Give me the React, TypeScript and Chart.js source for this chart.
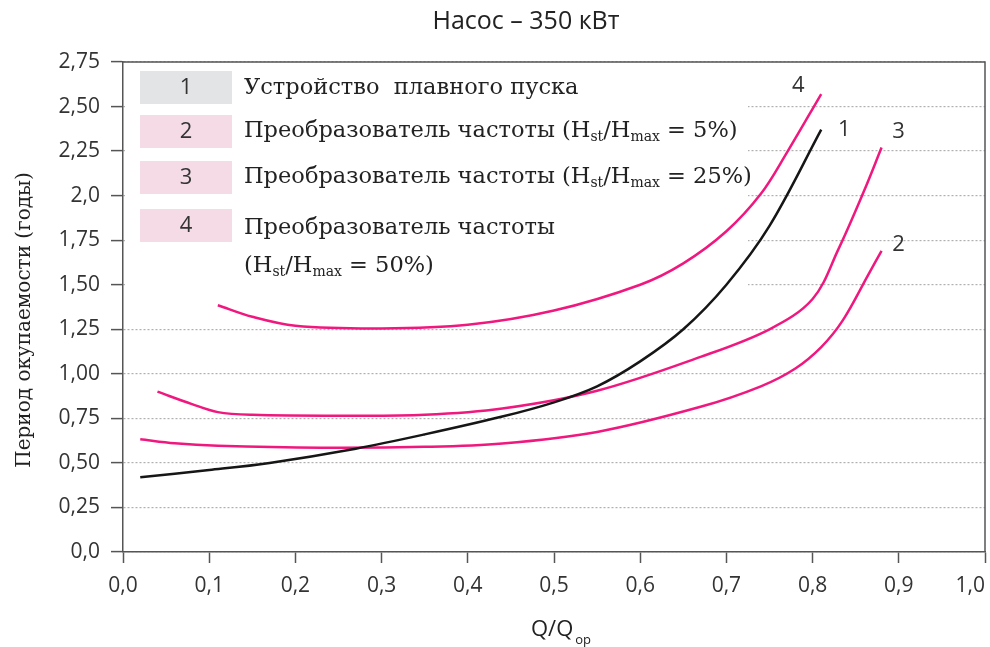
import React, { useEffect, useRef } from 'react';
import { Chart, registerables } from 'chart.js';

Chart.register(...registerables);

const titleText = 'Насос – 350 кВт';
const yAxisTitle = 'Период окупаемости (годы)';
const xAxisTitleMain = 'Q/Q';
const xAxisTitleSub = 'ор';

const xTickLabels = ['0,0', '0,1', '0,2', '0,3', '0,4', '0,5', '0,6', '0,7', '0,8', '0,9', '1,0'];
const yTickLabels = ['0,0', '0,25', '0,50', '0,75', '1,00', '1,25', '1,50', '1,75', '2,0', '2,25', '2,50', '2,75'];

// Curve 1: soft starter (black)
const curve1X = [0.02, 0.1, 0.17, 0.27, 0.35, 0.44, 0.5, 0.55, 0.6, 0.65, 0.7, 0.75, 0.81];
const curve1Y = [0.42, 0.46, 0.5, 0.58, 0.66, 0.76, 0.84, 0.93, 1.07, 1.25, 1.5, 1.83, 2.37];
// Curve 2: frequency converter Hst/Hmax = 5%
const curve2X = [0.02, 0.06, 0.11, 0.23, 0.35, 0.44, 0.55, 0.67, 0.74, 0.78, 0.81, 0.835, 0.865, 0.88];
const curve2Y = [0.633, 0.61, 0.596, 0.585, 0.59, 0.609, 0.674, 0.815, 0.93, 1.03, 1.15, 1.3, 1.56, 1.69];
// Curve 3: frequency converter Hst/Hmax = 25%
const curve3X = [0.04, 0.08, 0.11, 0.15, 0.25, 0.35, 0.44, 0.55, 0.67, 0.75, 0.8, 0.83, 0.86, 0.88];
const curve3Y = [0.9, 0.83, 0.785, 0.77, 0.765, 0.77, 0.805, 0.905, 1.095, 1.25, 1.42, 1.7, 2.03, 2.27];
// Curve 4: frequency converter Hst/Hmax = 50%
const curve4X = [0.11, 0.15, 0.2, 0.3, 0.4, 0.5, 0.6, 0.65, 0.7, 0.74, 0.77, 0.81];
const curve4Y = [1.385, 1.32, 1.27, 1.255, 1.275, 1.355, 1.5, 1.62, 1.8, 2.01, 2.24, 2.57];

const seriesNumbers = ['1', '2', '3', '4'];
const seriesColors = ['#161616', '#f0187f', '#f0187f', '#f0187f'];
const legendBoxColors = ['#e3e4e6', '#f4dbe6', '#f4dbe6', '#f4dbe6'];
// runs: [text, isSubscript]
const legendLines: [string, boolean][][][] = [
  [[['Устройство  плавного пуска', false]]],
  [[['Преобразователь частоты (H', false], ['st', true], ['/H', false], ['max', true], [' = 5%)', false]]],
  [[['Преобразователь частоты (H', false], ['st', true], ['/H', false], ['max', true], [' = 25%)', false]]],
  [
    [['Преобразователь частоты', false]],
    [['(H', false], ['st', true], ['/H', false], ['max', true], [' = 50%)', false]],
  ],
];

const toPoints = (xs: number[], ys: number[]) => xs.map((x, i) => ({ x, y: ys[i] }));

const SERIF = '"DejaVu Serif", serif';
const SANS = '"Open Sans", sans-serif';

function drawRuns(ctx: CanvasRenderingContext2D, runs: [string, boolean][], x: number, y: number, size: number) {
  let cx = x;
  for (const [txt, sub] of runs) {
    ctx.font = sub ? `${Math.round(size * 0.6)}px ${SERIF}` : `${size}px ${SERIF}`;
    ctx.fillText(txt, cx, sub ? y + size * 0.28 : y);
    cx += ctx.measureText(txt).width;
  }
}

const customPlugin = {
  id: 'customDecor',
  beforeDatasetsDraw(chart: any) {
    const ctx: CanvasRenderingContext2D = chart.ctx;
    const area = chart.chartArea;
    ctx.save();
    // legend background hides gridlines
    ctx.fillStyle = '#ffffff';
    ctx.fillRect(area.left + 2, area.top + 2, 748 - area.left - 2, 300 - area.top - 2);
    const boxTops = [71, 115, 161, 209];
    const rowCenters = [[88], [131], [177], [228, 266]];
    for (let i = 0; i < 4; i++) {
      ctx.fillStyle = legendBoxColors[i];
      ctx.fillRect(140, boxTops[i], 92, 33);
      ctx.fillStyle = '#333';
      ctx.font = `22px ${SANS}`;
      ctx.textAlign = 'center';
      ctx.textBaseline = 'middle';
      ctx.fillText(seriesNumbers[i], 186, boxTops[i] + 17);
      ctx.textAlign = 'left';
      ctx.textBaseline = 'middle';
      ctx.fillStyle = '#222';
      legendLines[i].forEach((runs, j) => drawRuns(ctx, runs, 244, rowCenters[i][j], 22.5));
    }
    ctx.restore();
  },
  afterDraw(chart: any) {
    const ctx: CanvasRenderingContext2D = chart.ctx;
    const area = chart.chartArea;
    ctx.save();
    // frame top/right
    ctx.strokeStyle = '#555';
    ctx.lineWidth = 1.5;
    ctx.beginPath();
    ctx.moveTo(area.left, area.top);
    ctx.lineTo(area.right, area.top);
    ctx.lineTo(area.right, area.bottom);
    ctx.stroke();

    // title
    ctx.fillStyle = '#222';
    ctx.textAlign = 'center';
    ctx.textBaseline = 'middle';
    ctx.font = `25px ${SANS}`;
    ctx.fillText(titleText, 526, 22);

    // x tick labels
    const xs = chart.scales.x;
    ctx.font = `21px ${SANS}`;
    ctx.fillStyle = '#333';
    xs.ticks.forEach((t: any, i: number) => {
      const label = xTickLabels[i] ?? '';
      const w = ctx.measureText(label).width;
      const px = Math.min(xs.getPixelForTick(i), area.right - w / 2);
      ctx.fillText(label, px, 586);
    });

    // x axis title
    ctx.textAlign = 'left';
    ctx.font = `22px ${SANS}`;
    ctx.fillStyle = '#222';
    ctx.fillText(xAxisTitleMain, 531, 630);
    const wMain = ctx.measureText(xAxisTitleMain).width;
    ctx.font = `13px ${SANS}`;
    ctx.fillText(xAxisTitleSub, 531 + wMain + 2, 640);

    // y axis title
    ctx.save();
    ctx.translate(25, 320);
    ctx.rotate(-Math.PI / 2);
    ctx.textAlign = 'center';
    ctx.font = `20px ${SERIF}`;
    ctx.fillText(yAxisTitle, 0, 0);
    ctx.restore();

    // curve end labels
    const offsets = [[23, 0], [17, -6], [17, -16], [-23, -8]];
    ctx.textAlign = 'center';
    ctx.font = `22px ${SANS}`;
    ctx.fillStyle = '#333';
    chart.data.datasets.forEach((ds: any, di: number) => {
      const meta = chart.getDatasetMeta(di);
      const last = meta.data[meta.data.length - 1];
      const idx = seriesNumbers.indexOf(ds.label);
      const off = offsets[idx];
      ctx.fillText(ds.label, last.x + off[0], last.y + off[1]);
    });
    ctx.restore();
  },
};

export default function App() {
  const canvasRef = useRef<HTMLCanvasElement | null>(null);

  useEffect(() => {
    if (!canvasRef.current) return;
    const chart = new Chart(canvasRef.current, {
      type: 'scatter',
      data: {
        datasets: [
          { label: seriesNumbers[0], data: toPoints(curve1X, curve1Y), borderColor: seriesColors[0] },
          { label: seriesNumbers[1], data: toPoints(curve2X, curve2Y), borderColor: seriesColors[1] },
          { label: seriesNumbers[2], data: toPoints(curve3X, curve3Y), borderColor: seriesColors[2] },
          { label: seriesNumbers[3], data: toPoints(curve4X, curve4Y), borderColor: seriesColors[3] },
        ].map((d) => ({
          ...d,
          showLine: true,
          borderWidth: 2.5,
          pointRadius: 0,
          pointHoverRadius: 0,
          tension: 0.35,
          fill: false,
        })),
      },
      options: {
        responsive: false,
        animation: false,
        layout: { padding: { top: 62, right: 5, left: 0, bottom: 0 }, autoPadding: false },
        plugins: { legend: { display: false }, tooltip: { enabled: false }, title: { display: false } },
        scales: {
          x: {
            type: 'linear',
            min: 0,
            max: 1,
            ticks: { stepSize: 0.1, display: false },
            grid: { drawOnChartArea: false, tickColor: '#555', tickLength: 11, tickWidth: 1.5 },
            border: { color: '#555', width: 1.5 },
            afterFit: (s: any) => { s.height = 95; },
          },
          y: {
            type: 'linear',
            min: 0,
            max: 2.75,
            ticks: {
              stepSize: 0.25,
              padding: 11,
              color: '#333',
              font: { family: '"Open Sans", sans-serif', size: 21 },
              callback: (_v: any, i: number) => yTickLabels[i] ?? '',
            },
            grid: { color: '#b0b0b0', lineWidth: 1.2, tickColor: '#555', tickLength: 12, tickWidth: 1.5 },
            border: { color: '#555', width: 1.5, dash: [2, 2] },
            afterFit: (s: any) => { s.width = 123; },
          },
        },
      },
      plugins: [customPlugin],
    } as any);
    return () => chart.destroy();
  }, []);

  return (
    <div style={{ position: 'absolute', left: 0, top: 0, width: 990, height: 647, background: '#fff' }}>
      <canvas ref={canvasRef} width={990} height={647} style={{ display: 'block' }} />
    </div>
  );
}
